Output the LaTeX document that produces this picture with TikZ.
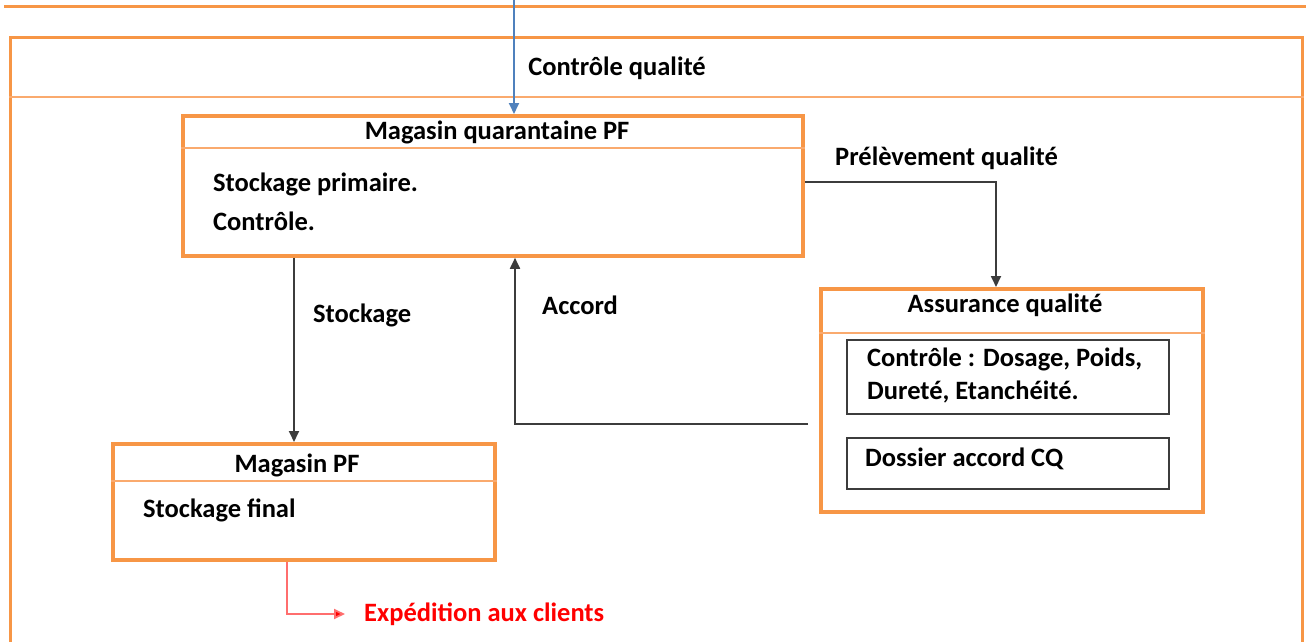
\documentclass[tikz,border=0pt]{standalone}
\usepackage{fontspec}
\setmainfont{Carlito}
\usetikzlibrary{arrows.meta}
\definecolor{boxorange}{RGB}{247,150,70}
\definecolor{lineorange}{RGB}{250,170,110}
\definecolor{flowgray}{RGB}{60,60,60}
\definecolor{flowblue}{RGB}{79,129,189}
\definecolor{shipred}{RGB}{255,0,0}
\definecolor{shipline}{RGB}{255,110,110}
\begin{document}
\begin{tikzpicture}[x=1pt,y=-1pt,
  lbl/.style={font=\fontsize{26.5}{30}\selectfont\bfseries, inner sep=0pt},
  obox/.style={draw=boxorange, line width=3.8pt, fill=white, rectangle, inner sep=0pt},
  ibox/.style={draw=flowgray, line width=1.6pt, rectangle, inner sep=0pt},
  sepline/.style={draw=lineorange, line width=1.5pt},
  flow/.style={draw=flowgray, line width=1.8pt, -{Triangle[length=11pt,width=10pt]}},
  tip/.style={-{Triangle[length=11pt,width=10pt]}}
]
\useasboundingbox (0,0) rectangle (1306,642);
\fill[white] (0,0) rectangle (1306,642);

% frame of the quality-control area
\draw[boxorange, line width=3pt] (4,7) -- (1306,7);
\node[draw=boxorange, line width=3pt, rectangle, inner sep=0pt, minimum width=1292pt, minimum height=607pt, anchor=north west] (frame) at (9,36) {};
\draw[sepline] (frame.west |- 0,97) -- (frame.east |- 0,97);
\node[lbl] (cq) at (617,68) {Contrôle qualité};

% quarantine store
\node[obox, minimum width=620pt, minimum height=140pt, anchor=north west] (mq) at (181,114) {};
\draw[sepline] (mq.west |- 0,148) -- (mq.east |- 0,148);
\node[lbl] (mqt) at (497,132) {Magasin quarantaine PF};
\node[lbl, anchor=west] (mq1) at (213,184) {Stockage primaire.};
\node[lbl, anchor=west] (mq2) at (213,221) {Contrôle.};

% quality assurance
\node[obox, minimum width=382pt, minimum height=223pt, anchor=north west] (aq) at (819,287) {};
\draw[sepline] (aq.west |- 0,333) -- (aq.east |- 0,333);
\node[lbl] (aqt) at (1005,305) {Assurance qualité};
\node[ibox, minimum width=322pt, minimum height=74pt, anchor=north west] (ctl) at (846,339) {};
\node[lbl, anchor=west] (ctl1) at (867,359) {Contrôle : Dosage, Poids,};
\node[lbl, anchor=west] (ctl2) at (867,392) {Dureté, Etanchéité.};
\node[ibox, minimum width=322pt, minimum height=51pt, anchor=north west] (dos) at (846,437) {};
\node[lbl, anchor=west] (dos1) at (865,459) {Dossier accord CQ};

% finished-goods store
\node[obox, minimum width=382pt, minimum height=116pt, anchor=north west] (mpf) at (111,442) {};
\draw[sepline] (mpf.west |- 0,481) -- (mpf.east |- 0,481);
\node[lbl] (mpft) at (297,465) {Magasin PF};
\node[lbl, anchor=west] (mpf1) at (143,510) {Stockage final};

% flows
\coordinate (entry) at (514,0);
\draw[flowblue, line width=1.8pt, tip] (entry) -- (entry |- mq.north);

\draw[flow] (mq.east |- 0,182) -| (996,0 |- aq.north);
\node[lbl, anchor=west] (prl) at (835,158) {Prélèvement qualité};

\coordinate (accs) at (808,424);
\draw[flow] (accs) -| (515,0 |- mq.south);
\node[lbl, anchor=west] (acc) at (542,305) {Accord};

\draw[flow] (294,0 |- mq.south) -- (294,0 |- mpf.north);
\node[lbl, anchor=west] (stk) at (313,315) {Stockage};

\coordinate (ship) at (345,614);
\draw[shipline, line width=1.8pt, -{Triangle[length=11pt,width=10pt,fill=shipred]}] (287,0 |- mpf.south) |- (ship);
\node[lbl, anchor=west, text=shipred] (exp) at (364,614) {Expédition aux clients};
\end{tikzpicture}
\end{document}
